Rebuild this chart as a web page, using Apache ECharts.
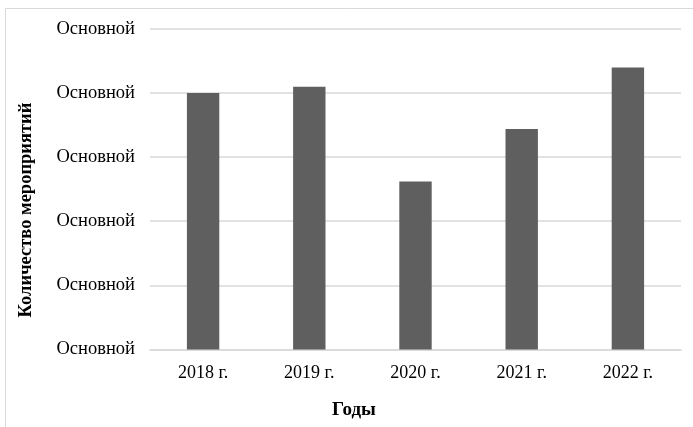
<!DOCTYPE html>
<html>
<head>
<meta charset="utf-8">
<script src="https://cdn.jsdelivr.net/npm/echarts@6/dist/echarts.min.js"></script>
<style>
  html, body { margin: 0; padding: 0; background: #ffffff; }
  #chart { width: 693px; height: 427px; }
</style>
</head>
<body>
<div id="chart"></div>
<script>
// Years on the category axis
const years = ['2018 г.', '2019 г.', '2020 г.', '2021 г.', '2022 г.'];
// Number of events per year
const eventCounts = [40, 41, 26.2, 34.4, 44];
// Value-axis tick labels (bottom to top)
const yTickLabels = ['Основной', 'Основной', 'Основной', 'Основной', 'Основной', 'Основной'];

const serif = '"Liberation Serif", "DejaVu Serif", serif';

const chart = echarts.init(document.getElementById('chart'), null, { renderer: 'canvas' });

chart.setOption({
  animation: false,
  backgroundColor: '#ffffff',
  grid: { left: 150, right: 12, top: 29, bottom: 77.6 },
  xAxis: {
    type: 'category',
    data: years,
    axisLine: { show: true, lineStyle: { color: '#d9d9d9', width: 1.5 } },
    axisTick: { show: false },
    axisLabel: { color: '#000000', fontFamily: serif, fontSize: 18, margin: 15 }
  },
  yAxis: {
    type: 'value',
    min: 0,
    max: 50,
    interval: 10,
    axisLine: { show: false },
    axisTick: { show: false },
    splitLine: { lineStyle: { color: '#d9d9d9', width: 1.5 } },
    axisLabel: {
      color: '#000000',
      fontFamily: serif,
      fontSize: 18.5,
      margin: 15,
      formatter: function (value, index) { return yTickLabels[index]; }
    }
  },
  series: [{
    type: 'bar',
    data: eventCounts,
    barWidth: '30.5%',
    itemStyle: { color: '#5f5f5f' }
  }],
  graphic: [
    {
      type: 'rect',
      shape: { x: 5.5, y: 8.5, width: 700, height: 430 },
      style: { fill: 'none', stroke: '#d9d9d9', lineWidth: 1 },
      silent: true
    },
    {
      type: 'text',
      x: 354,
      y: 410,
      style: {
        text: 'Годы',
        font: 'bold 19px ' + serif,
        fill: '#000000',
        align: 'center',
        verticalAlign: 'middle'
      }
    },
    {
      type: 'text',
      x: 26,
      y: 210,
      rotation: Math.PI / 2,
      style: {
        text: 'Количество мероприятий',
        font: 'bold 18.5px ' + serif,
        fill: '#000000',
        align: 'center',
        verticalAlign: 'middle'
      }
    }
  ]
});
</script>
</body>
</html>
